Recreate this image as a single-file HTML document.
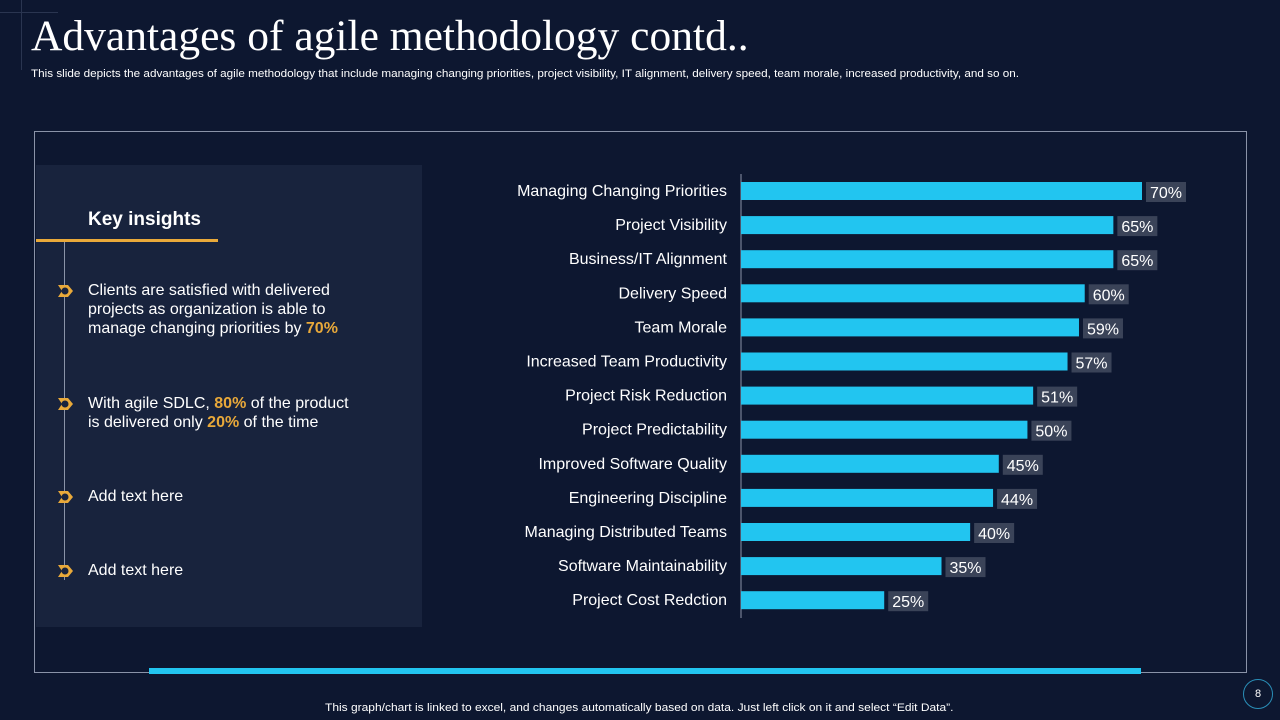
<!DOCTYPE html>
<html><head><meta charset="utf-8"><style>
body{margin:0;width:1280px;height:720px;background:#0d1730;font-family:"Liberation Sans",sans-serif;color:#fff;position:relative;overflow:hidden}
.a{position:absolute}
</style></head><body>
<div class="a" style="left:0;top:12px;width:58px;height:1px;background:#2a3550"></div>
<div class="a" style="left:21px;top:0;width:1px;height:70px;background:#2a3550"></div>
<div class="a" style="left:31px;top:11px;font-family:'Liberation Serif',serif;font-size:43.5px;white-space:nowrap">Advantages of agile methodology contd..</div>
<div class="a" style="left:31px;top:68px;font-size:11px;white-space:nowrap;transform:scaleX(1.063);transform-origin:left">This slide depicts the advantages of agile methodology that include managing changing priorities, project visibility, IT alignment, delivery speed, team morale, increased productivity, and so on.</div>
<div class="a" style="left:34px;top:131px;width:1213px;height:542px;border:1px solid #8a93a8;box-sizing:border-box"></div>
<div class="a" style="left:36px;top:165px;width:386px;height:462px;background:#18233d"></div>
<div class="a" style="left:88px;top:209px;font-size:19px;font-weight:bold">Key insights</div>
<div class="a" style="left:36px;top:239px;width:182px;height:3px;background:#e9a93a"></div>
<div class="a" style="left:64px;top:242px;width:1px;height:338px;background:#8a93a8"></div>
<div id="bul"></div>
<div class="a" style="left:149px;top:668px;width:992px;height:6px;background:#22c5f0"></div>
<div class="a" style="left:325px;top:702px;font-size:11px;white-space:nowrap;transform:scaleX(1.09);transform-origin:left">This graph/chart is linked to excel,  and changes automatically based on data. Just left click on it and select “Edit Data”.</div>
<div class="a" style="left:1243px;top:679px;width:30px;height:30px;border:1px solid #2a8fb8;border-radius:50%;box-sizing:border-box;text-align:center;line-height:28px;font-size:11px">8</div>
<svg class="a" style="left:0;top:0" width="1280" height="720" id="chart"></svg>
<script>
const categories=["Managing Changing Priorities","Project Visibility","Business/IT Alignment","Delivery Speed","Team Morale","Increased Team Productivity","Project Risk Reduction","Project Predictability","Improved Software Quality ","Engineering Discipline","Managing Distributed Teams","Software Maintainability","Project Cost Redction"];
const values=[70,65,65,60,59,57,51,50,45,44,40,35,25];
const valueLabels=["70%","65%","65%","60%","59%","57%","51%","50%","45%","44%","40%","35%","25%"];
const x0=741,pxPer=401/70,y0=191,step=34.1,bh=18;
const xs=v=>x0+v*pxPer, ys=i=>y0+i*step;
const svg=document.getElementById('chart'),NS='http://www.w3.org/2000/svg';
function mk(t,a){const e=document.createElementNS(NS,t);for(const k in a)e.setAttribute(k,a[k]);svg.appendChild(e);return e;}
const ax=mk('line',{x1:x0,x2:x0,y1:174,y2:618,stroke:'#8a93a8','stroke-width':1});


categories.forEach((c,i)=>{
 const y=ys(i),w=xs(values[i])-x0;
 const r=mk('rect',{x:x0,y:y-bh/2,width:w,height:bh,fill:'#22c5f0'});
 
 
 const t=mk('text',{x:727,y:y+5,'text-anchor':'end','font-size':16,fill:'#fff','font-family':'Liberation Sans, sans-serif'});
 t.textContent=c;
 
 
 const bx=mk('rect',{x:xs(values[i])+4,y:y-9,width:40,height:20,fill:'#3a4358'});
 
 
 const v=mk('text',{x:xs(values[i])+24,y:y+7,'text-anchor':'middle','font-size':16,fill:'#fff','font-family':'Liberation Sans, sans-serif'});
 v.textContent=valueLabels[i];
 
 
});
const bul=[[291,'Clients are satisfied with delivered<br>projects as organization is able to<br>manage changing priorities by <b style="color:#e9a93a">70%</b>'],[404,'With agile SDLC, <b style="color:#e9a93a">80%</b> of the product<br>is delivered only  <b style="color:#e9a93a">20%</b> of the time'],[497,'Add text here'],[571,'Add text here']];
const bd=document.getElementById('bul');
bul.forEach(([y,h])=>{
 const d=document.createElement('div');d.className='a';
 d.style.cssText=`left:58px;top:${y-7}px;width:14px;height:14px;`;
 d.innerHTML='<svg width="16" height="14"><polygon points="0,1 10,1 15,7 10,13 0,13 4,7" fill="#e9a93a"/><circle cx="7" cy="7" r="3.5" fill="#18233d"/></svg>';
 
 
 bd.appendChild(d);
 const t=document.createElement('div');t.className='a';
 t.style.cssText=`left:88px;top:${y-10}px;font-size:16px;line-height:19px;white-space:nowrap`;
 t.innerHTML=h;
 
 
 bd.appendChild(t);
});
</script>
</body></html>
